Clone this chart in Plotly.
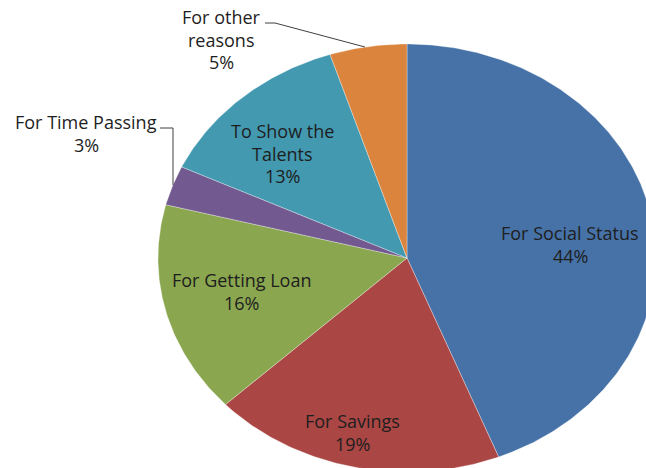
import numpy as np
import plotly.graph_objects as go

# Reasons and their shares (percent), clockwise from 12 o'clock
categories = ["For Social Status", "For Savings", "For Getting Loan",
              "For Time Passing", "To Show the Talents", "For other reasons"]
shares = [44, 19, 16, 3, 13, 5]
colors = ["#4672A7", "#AA4644", "#8AA64F", "#72598F", "#4299B0", "#DB843D"]

# Text lines of each slice label (the percent line is appended from the data)
label_lines = [["For Social Status"], ["For Savings"], ["For Getting Loan"],
               ["For Time Passing"], ["To Show the", "Talents"],
               ["For other", "reasons"]]
# Centre of the first text line of each label, in pixel-like plot units
label_pos = [(570, 233), (352, 421), (241, 280), (86, 122), (282, 131), (221, 17)]

W, H = 646, 468
cx, cy = 407, 258          # pie centre
rx, ry = 249, 214          # horizontal / vertical radius (oval pie)
line_gap = 22.5
font = dict(family="Open Sans, sans-serif", size=18, color="#1e1e1e")

fig = go.Figure()

total = float(sum(shares))
start = 0.0
for name, v, c in zip(categories, shares, colors):
    end = start + v / total * 2 * np.pi
    t = np.linspace(start, end, max(int(v * 6), 8))
    xs = np.concatenate([[cx], cx + rx * np.sin(t), [cx]])
    ys = np.concatenate([[cy], cy - ry * np.cos(t), [cy]])
    fig.add_trace(go.Scatter(
        x=xs, y=ys, mode="lines", fill="toself", fillcolor=c,
        line=dict(color="rgba(255,255,255,0.55)", width=0.6),
        name=name, hoverinfo="name", showlegend=False))
    start = end

annotations = []
for lines, v, (lx, ly) in zip(label_lines, shares, label_pos):
    for i, txt in enumerate(lines + [f"{v}%"]):
        annotations.append(dict(
            x=lx, y=ly + i * line_gap, xref="x", yref="y", text=txt,
            showarrow=False, xanchor="center", yanchor="middle", font=font))

# Leader lines for the two labels placed outside the pie
shapes = [
    dict(type="path", xref="x", yref="y", path="M 265 23 L 275 23 L 365 47",
         line=dict(color="#404040", width=1)),
    dict(type="path", xref="x", yref="y", path="M 160 128 L 173 128 L 173 185",
         line=dict(color="#404040", width=1)),
]

fig.update_layout(
    width=W, height=H,
    margin=dict(l=0, r=0, t=0, b=0),
    paper_bgcolor="white", plot_bgcolor="white",
    xaxis=dict(range=[0, W], visible=False, fixedrange=True),
    yaxis=dict(range=[H, 0], visible=False, fixedrange=True),
    annotations=annotations, shapes=shapes,
)

fig.write_html("out.html")
